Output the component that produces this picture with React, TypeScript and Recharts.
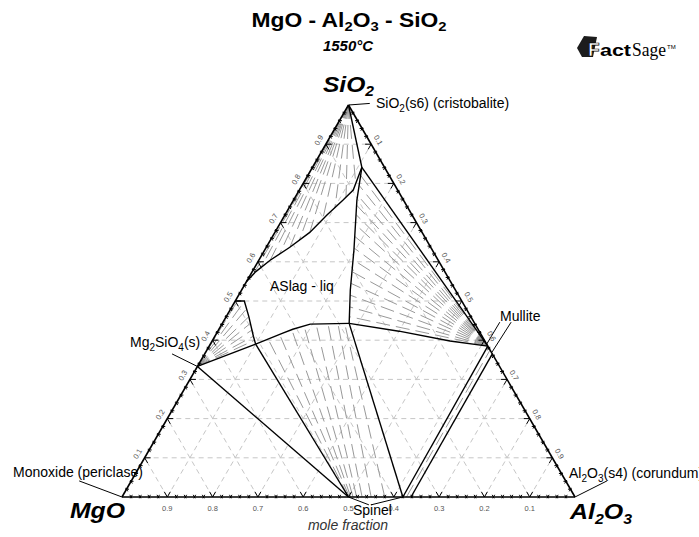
import React from 'react';
import { ComposedChart, XAxis, YAxis, ReferenceLine, Line, Scatter } from 'recharts';

// compositions are [Al2O3, SiO2] mole fractions, MgO is the rest
type T = [number, number];

const H = Math.sqrt(3) / 2;
const pt = ([al, si]: T) => ({ x: al + si / 2, y: si * H });

const MGO: T = [0, 0];
const AL2O3: T = [1, 0];
const SIO2: T = [0, 1];

// solid phases
const forsterite: T = [0, 0.333];
const mulliteSi: T = [0.615, 0.385];
const mulliteAl: T = [0.635, 0.365];
const spinelMg: T = [0.5, 0];
const spinelAl1: T = [0.62, 0];
const spinelAl2: T = [0.638, 0];

// invariant liquid points
const liqA: T = [0.109, 0.841];
const liqE: T = [0.1, 0.39];
const liqF: T = [0.28, 0.443];

// liquidus curves
const liqCristobalite: T[] = [[0.109, 0.841], [0.119, 0.783], [0.109, 0.757], [0.093, 0.72], [0.077, 0.675], [0.052, 0.637], [0.025, 0.604], [0.008, 0.575], [0, 0.55]];
const liqMullite: T[] = [[0.109, 0.841], [0.14, 0.757], [0.197, 0.63], [0.24, 0.528], [0.28, 0.443]];
const liqForsterite: T[] = [[0, 0.5], [0.02, 0.5], [0.05, 0.46], [0.085, 0.41], [0.1, 0.39]];
const liqSpinel: T[] = [[0.1, 0.39], [0.146, 0.418], [0.163, 0.428], [0.195, 0.441], [0.28, 0.443]];
const mulliteLiqEdge: T[] = [[0.28, 0.443], [0.4, 0.423], [0.525, 0.398], [0.615, 0.385]];

// tie-line ends on the liquidus
const tieCristobalite: T[] = [[0.116, 0.8], [0.112, 0.765], [0.101, 0.738], [0.089, 0.708], [0.077, 0.675], [0.064, 0.655], [0.052, 0.637], [0.038, 0.62], [0.025, 0.604], [0.014, 0.588], [0.006, 0.572]];
const tieMullite: T[] = [[0.117, 0.82], [0.126, 0.795], [0.135, 0.77], [0.145, 0.745], [0.157, 0.72], [0.168, 0.695], [0.181, 0.665], [0.195, 0.635], [0.208, 0.605], [0.22, 0.575], [0.233, 0.545], [0.246, 0.515], [0.26, 0.485], [0.272, 0.46]];
const tieForsterite: T[] = [[0.005, 0.5], [0.02, 0.495], [0.035, 0.48], [0.05, 0.46], [0.062, 0.443], [0.074, 0.426], [0.085, 0.41], [0.093, 0.4]];
const tieSpinelLiq: T[] = [[0.121, 0.403], [0.142, 0.413], [0.162, 0.426], [0.184, 0.436], [0.208, 0.441], [0.233, 0.443], [0.255, 0.443], [0.27, 0.443]];
const tieSpinelSol: T[] = [[0.5, 0], [0.502, 0], [0.505, 0], [0.51, 0], [0.518, 0], [0.53, 0], [0.55, 0], [0.58, 0]];

const gridValues = [0.1, 0.2, 0.3, 0.4, 0.5, 0.6, 0.7, 0.8, 0.9];

const S60 = 0.866;
const BOTTOM_DIRS = [[-0.5, -S60], [0.5, -S60]];
const LEFT_DIRS = [[1, 0], [0.5, S60]];
const RIGHT_DIRS = [[-1, 0], [-0.5, S60]];

const minorValues: number[] = [];
for (let i = 1; i < 50; i++) if (i % 5 !== 0) minorValues.push(i / 50);

const tickShape = (dirs: number[][], len: number, back: number) => (p: any) => (
  <g>
    {dirs.map(([dx, dy], i) => (
      <line key={i} x1={p.cx - dx * back} y1={p.cy - dy * back} x2={p.cx + dx * len} y2={p.cy + dy * len} stroke="#000" strokeWidth={1} />
    ))}
  </g>
);

const labelShape = (ox: number, oy: number, rot: number) => (p: any) => {
  const x = p.cx + ox;
  const y = p.cy + oy;
  return (
    <text x={x} y={y} transform={`rotate(${rot} ${x} ${y})`} textAnchor="middle" dominantBaseline="central" fontSize={7.5} fill="#555" fontFamily="Liberation Sans, Arial, sans-serif">
      {p.payload.label}
    </text>
  );
};

const bottomPts = (vals: number[]) => vals.map((v) => ({ ...pt([1 - v, 0]), label: String(v) }));
const leftPts = (vals: number[]) => vals.map((v) => ({ ...pt([0, v]), label: String(v) }));
const rightPts = (vals: number[]) => vals.map((v) => ({ ...pt([v, 1 - v]), label: String(v) }));

const seg = (a: T, b: T) => [pt(a), pt(b)];

const GRID = '#c6c6c6';
const TIE = '#999';

export default function App() {
  const grid: [T, T][] = [];
  gridValues.forEach((c) => {
    grid.push([[0, c], [1 - c, c]]);
    grid.push([[c, 0], [c, 1 - c]]);
    grid.push([[1 - c, 0], [0, 1 - c]]);
  });

  const ties: [T, T][] = [
    ...tieCristobalite.map((e) => [SIO2, e] as [T, T]),
    ...tieMullite.map((e) => [mulliteSi, e] as [T, T]),
    ...tieForsterite.map((e) => [forsterite, e] as [T, T]),
    ...tieSpinelLiq.map((e, i) => [tieSpinelSol[i], e] as [T, T]),
    [[0.628, 0], [0.625, 0.375]],
  ];

  const bounds: [T, T][] = [
    [SIO2, liqA],
    [liqA, mulliteSi],
    [forsterite, liqE],
    [forsterite, spinelMg],
    [liqE, spinelMg],
    [liqF, spinelAl1],
    [spinelAl1, mulliteSi],
    [spinelAl2, mulliteAl],
  ];

  const curves = [liqCristobalite, liqMullite, liqForsterite, liqSpinel, mulliteLiqEdge];

  const leaders: [T, T][] = [
    [SIO2, [0.045, 1.004]],
    [[0.611, 0.446], [0.61, 0.387]],
    [[0.636, 0.446], [0.632, 0.37]],
    [[-0.072, 0.365], forsterite],
    [[-0.115, 0.041], MGO],
    [AL2O3, [1.05, 0.041]],
    [spinelMg, [0.555, -0.02]],
    [[0.56, -0.02], spinelAl1],
  ];

  const txt = { fontFamily: 'Liberation Sans, Arial, sans-serif' };

  return (
    <div style={{ position: 'absolute', left: 0, top: 0, width: 699, height: 537, background: '#fff' }}>
      <ComposedChart width={699} height={537} margin={{ top: 105, right: 124, bottom: 40, left: 122 }}>
        <XAxis type="number" dataKey="x" domain={[0, 1]} hide />
        <YAxis type="number" dataKey="y" domain={[0, H]} hide />
        {grid.map(([a, b], i) => (
          <ReferenceLine key={'g' + i} segment={seg(a, b)} stroke={GRID} strokeDasharray="5 4" strokeWidth={1} ifOverflow="visible" />
        ))}
        {ties.map(([a, b], i) => (
          <ReferenceLine key={'t' + i} segment={seg(a, b)} stroke={TIE} strokeDasharray="14 6" strokeWidth={1} ifOverflow="visible" />
        ))}
        {bounds.map(([a, b], i) => (
          <ReferenceLine key={'b' + i} segment={seg(a, b)} stroke="#000" strokeWidth={1.4} ifOverflow="visible" />
        ))}
        {leaders.map(([a, b], i) => (
          <ReferenceLine key={'l' + i} segment={seg(a, b)} stroke="#000" strokeWidth={1} ifOverflow="visible" />
        ))}
        <ReferenceLine segment={seg(MGO, AL2O3)} stroke="#000" strokeWidth={1.6} ifOverflow="visible" />
        <ReferenceLine segment={seg(MGO, SIO2)} stroke="#000" strokeWidth={1.6} ifOverflow="visible" />
        <ReferenceLine segment={seg(SIO2, AL2O3)} stroke="#000" strokeWidth={1.6} ifOverflow="visible" />
        {curves.map((c, i) => (
          <Line key={'c' + i} data={c.map(pt)} dataKey="y" type="linear" stroke="#000" strokeWidth={1.4} dot={false} activeDot={false} isAnimationActive={false} />
        ))}
        <Scatter data={bottomPts(gridValues)} shape={tickShape(BOTTOM_DIRS, 6, 0)} isAnimationActive={false} />
        <Scatter data={leftPts(gridValues)} shape={tickShape(LEFT_DIRS, 6, 0)} isAnimationActive={false} />
        <Scatter data={rightPts(gridValues)} shape={tickShape(RIGHT_DIRS, 6, 0)} isAnimationActive={false} />
        <Scatter data={bottomPts(minorValues)} shape={tickShape(BOTTOM_DIRS, 2.5, 1.5)} isAnimationActive={false} />
        <Scatter data={leftPts(minorValues)} shape={tickShape(LEFT_DIRS, 2.5, 1.5)} isAnimationActive={false} />
        <Scatter data={rightPts(minorValues)} shape={tickShape(RIGHT_DIRS, 2.5, 1.5)} isAnimationActive={false} />
        <Scatter data={bottomPts(gridValues)} shape={labelShape(0, 11.5, 0)} isAnimationActive={false} />
        <Scatter data={leftPts(gridValues)} shape={labelShape(-7, -4, -60)} isAnimationActive={false} />
        <Scatter data={rightPts(gridValues)} shape={labelShape(7, -4, 60)} isAnimationActive={false} />
      </ComposedChart>
      <svg width={699} height={537} style={{ position: 'absolute', left: 0, top: 0, pointerEvents: 'none' }}>
        <g style={txt} fill="#000">
          <text x={349} y={27} textAnchor="middle" fontWeight="bold" fontSize={20} textLength={195} lengthAdjust="spacingAndGlyphs">
            MgO - Al<tspan fontSize={13} dy={4}>2</tspan><tspan dy={-4}>O</tspan><tspan fontSize={13} dy={4}>3</tspan><tspan dy={-4}> - SiO</tspan><tspan fontSize={13} dy={4}>2</tspan>
          </text>
          <text x={348} y={51} textAnchor="middle" fontStyle="italic" fontWeight="bold" fontSize={15} textLength={50} lengthAdjust="spacingAndGlyphs">1550°C</text>
          <text x={323} y={92} fontStyle="italic" fontWeight="bold" fontSize={22} textLength={51} lengthAdjust="spacingAndGlyphs">
            SiO<tspan fontSize={14} dy={4}>2</tspan>
          </text>
          <text x={70} y={518} fontStyle="italic" fontWeight="bold" fontSize={22} textLength={55} lengthAdjust="spacingAndGlyphs">MgO</text>
          <text x={570} y={519} fontStyle="italic" fontWeight="bold" fontSize={22} textLength={62} lengthAdjust="spacingAndGlyphs">
            Al<tspan fontSize={14} dy={5}>2</tspan><tspan dy={-5}>O</tspan><tspan fontSize={14} dy={5}>3</tspan>
          </text>
          <text x={348} y={530} textAnchor="middle" fontStyle="italic" fontSize={14} fill="#333">mole fraction</text>
          <text x={353} y={515} fontSize={14}>Spinel</text>
          <text x={13} y={477} fontSize={14}>Monoxide (periclase)</text>
          <text x={569} y={478} fontSize={14}>
            Al<tspan fontSize={10} dy={4}>2</tspan><tspan dy={-4}>O</tspan><tspan fontSize={10} dy={4}>3</tspan><tspan dy={-4}>(s4) (corundum)</tspan>
          </text>
          <text x={500} y={321} fontSize={14}>Mullite</text>
          <text x={130} y={347} fontSize={14}>
            Mg<tspan fontSize={10} dy={4}>2</tspan><tspan dy={-4}>SiO</tspan><tspan fontSize={10} dy={4}>4</tspan><tspan dy={-4}>(s)</tspan>
          </text>
          <text x={376} y={108} fontSize={14}>
            SiO<tspan fontSize={10} dy={4}>2</tspan><tspan dy={-4}>(s6) (cristobalite)</tspan>
          </text>
          <text x={270} y={291} fontSize={14}>ASlag - liq</text>
          <polygon points="577,48 584,36 597,37 593,57 582,57" fill="#1c1c1c" />
          <text x={588} y={56} fontWeight="900" fontSize={19} fill="#fff" stroke="#000" strokeWidth={0.7}>F</text>
          <text x={600} y={56} fontWeight="900" fontSize={17} textLength={31} lengthAdjust="spacingAndGlyphs">act</text>
          <text x={632} y={56} fontFamily="Liberation Serif, serif" fontSize={18} textLength={34} lengthAdjust="spacingAndGlyphs">Sage</text>
          <text x={667} y={49} fontSize={6}>TM</text>
        </g>
      </svg>
    </div>
  );
}
